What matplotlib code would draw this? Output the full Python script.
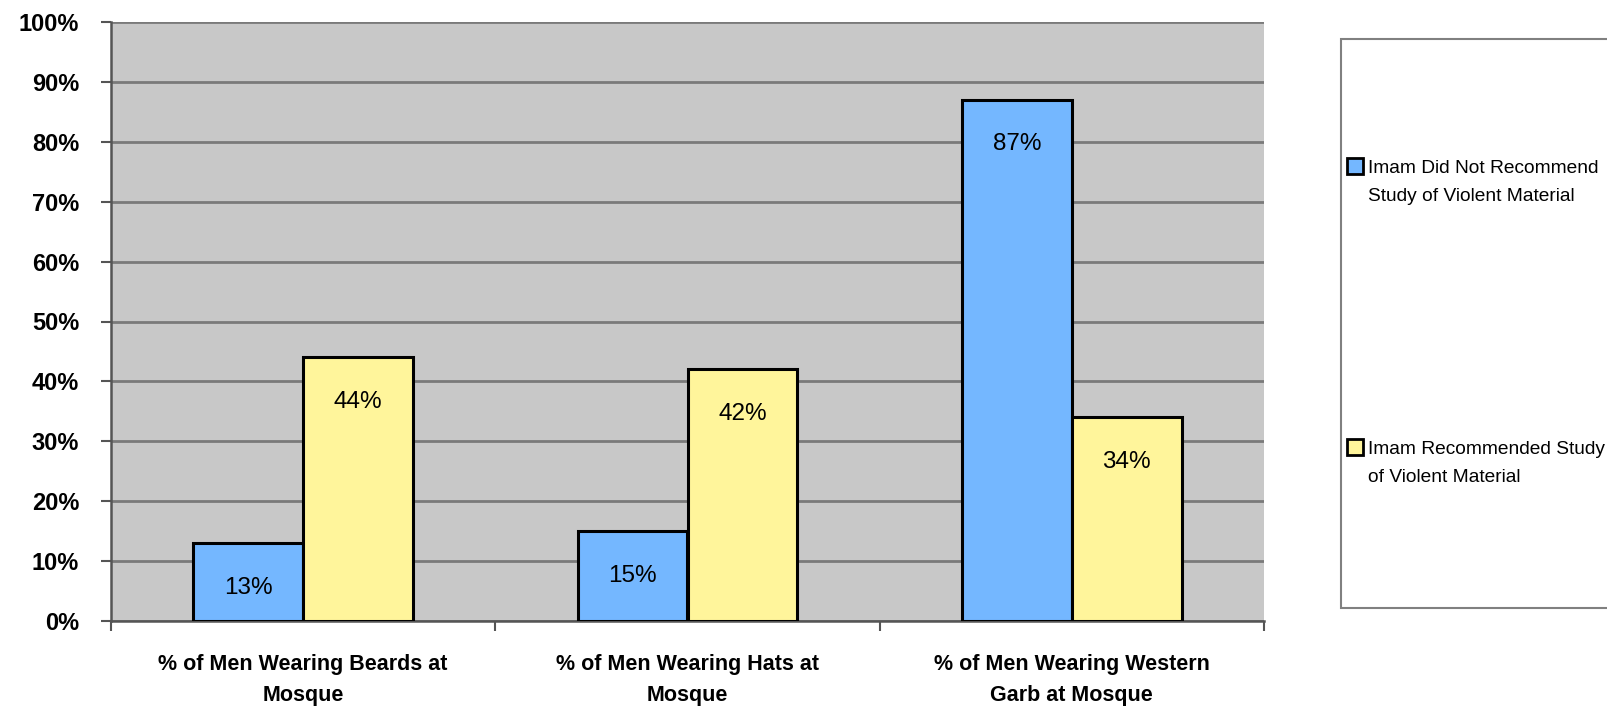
import matplotlib
matplotlib.use("Agg")
import matplotlib.pyplot as plt
from matplotlib.patches import Rectangle
import numpy as np

categories = [
    "% of Men Wearing Beards at\nMosque",
    "% of Men Wearing Hats at\nMosque",
    "% of Men Wearing Western\nGarb at Mosque",
]
series_names = [
    "Imam Did Not Recommend\nStudy of Violent Material",
    "Imam Recommended Study\nof Violent Material",
]
not_recommended = [13, 15, 87]
recommended = [44, 42, 34]
yticks = list(range(0, 101, 10))

BLUE = "#74B7FF"
YELLOW = "#FFF59B"
FONT = "Liberation Sans"

W, H = 1607, 708
fig = plt.figure(figsize=(W / 100, H / 100), dpi=100)
fig.patch.set_facecolor("white")

left, right, top, bottom = 111, 1264, 22, 621
ax = fig.add_axes([left / W, 1 - bottom / H, (right - left) / W, (bottom - top) / H])
ax.set_facecolor("#C8C8C8")

x = np.arange(len(categories))
bw = 1 / 3.5
for vals, color, off in ((not_recommended, BLUE, -bw / 2), (recommended, YELLOW, bw / 2)):
    bars = ax.bar(x + off, vals, width=bw, color=color, edgecolor="black",
                  linewidth=2.2, zorder=3)
    for b, v in zip(bars, vals):
        ax.annotate(f"{v}%", (b.get_x() + b.get_width() / 2, v),
                    xytext=(0, -32), textcoords="offset points",
                    ha="center", va="center", fontsize=17.5,
                    family=FONT, color="black", zorder=4)

ax.set_xlim(-0.5, len(categories) - 0.5)
ax.set_ylim(0, 100)
ax.set_yticks(yticks)
ax.set_yticklabels([f"{t}%" for t in yticks], fontsize=17, fontweight="bold",
                   family=FONT)
ax.yaxis.grid(True, color="#7A7A7A", linewidth=2, zorder=1)
ax.set_axisbelow(True)

ax.set_xticks(np.arange(len(categories) + 1) - 0.5, minor=False)
ax.set_xticklabels([])
ax.set_xticks(x, minor=True)
ax.set_xticklabels(categories, minor=True, fontsize=15.5, fontweight="bold",
                   family=FONT, linespacing=1.6)
ax.tick_params(axis="x", which="minor", length=0, pad=24)
ax.tick_params(axis="x", which="major", length=7, width=1.5, color="#555555",
               direction="out")
ax.tick_params(axis="y", length=7, width=1.5, color="#555555", pad=16)

for s in ("top", "right"):
    ax.spines[s].set_visible(False)
for s in ("left", "bottom"):
    ax.spines[s].set_color("#555555")
    ax.spines[s].set_linewidth(1.8)

# legend box, running off the right edge
lx0, ly0, ly1 = 1341, 39, 608
fig.patches.append(Rectangle((lx0 / W, 1 - ly1 / H), (W + 20 - lx0) / W,
                             (ly1 - ly0) / H, transform=fig.transFigure,
                             facecolor="white", edgecolor="#808080",
                             linewidth=1.5))
for name, color, ycen in ((series_names[0], BLUE, 166), (series_names[1], YELLOW, 447)):
    fig.patches.append(Rectangle((1347 / W, 1 - (ycen + 8) / H), 16 / W, 16 / H,
                                 transform=fig.transFigure, facecolor=color,
                                 edgecolor="black", linewidth=2))
    fig.text(1368 / W, 1 - (ycen - 6) / H, name, ha="left", va="top",
             fontsize=13.8, family=FONT, linespacing=1.85)

fig.savefig("out.png", dpi=100)
